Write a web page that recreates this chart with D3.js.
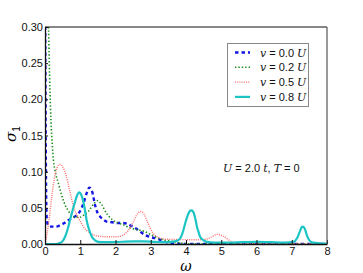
<!DOCTYPE html>
<html>
<head>
<meta charset="utf-8">
<script src="https://cdn.jsdelivr.net/npm/d3@7"></script>
<style>
  body { margin: 0; background: #fff; }
  text { font-family: "Liberation Sans", Arial, sans-serif; }
  .it { font-family: "DejaVu Serif", "Liberation Serif", serif; font-style: italic; }
</style>
</head>
<body>
<div id="main"></div>
<script>
var ctx = { w: 363, h: 273, left: 45, top: 27, right: 327, bottom: 244 };

// values
var xTicks = [0, 1, 2, 3, 4, 5, 6, 7, 8];
var yTicks = [0, 0.05, 0.10, 0.15, 0.20, 0.25, 0.30];

var labels = ["0.0", "0.2", "0.5", "0.8"];

var blueX = [0.005, 0.015, 0.03, 0.05, 0.08, 0.14, 0.3, 0.43, 0.55, 0.66, 0.78, 0.9, 1.0, 1.09, 1.18, 1.26, 1.34, 1.42, 1.5, 1.56, 1.65, 1.75, 1.9, 2.08, 2.2, 2.32, 2.45, 2.56, 2.7, 2.84, 3.0, 3.12, 3.25, 3.41, 3.55, 3.69, 3.85, 4.0, 8.0];
var blueY = [0.31, 0.2, 0.08, 0.035, 0.027, 0.024, 0.024, 0.026, 0.029, 0.033, 0.036, 0.040, 0.046, 0.056, 0.070, 0.078, 0.072, 0.054, 0.042, 0.038, 0.034, 0.031, 0.030, 0.029, 0.029, 0.028, 0.025, 0.022, 0.017, 0.0124, 0.0095, 0.008, 0.006, 0.003, 0.0015, 0.0005, 0.0002, 0, 0];

var greenX = [0.10, 0.12, 0.14, 0.17, 0.21, 0.24, 0.3, 0.38, 0.47, 0.57, 0.66, 0.76, 0.88, 0.99, 1.1, 1.23, 1.36, 1.49, 1.6, 1.75, 1.9, 2.08, 2.2, 2.37, 2.6, 2.84, 3.0, 3.22, 3.45, 3.69, 3.9, 4.1, 8.0];
var greenY = [0.30, 0.255, 0.215, 0.17, 0.135, 0.116, 0.098, 0.084, 0.068, 0.054, 0.046, 0.040, 0.037, 0.037, 0.040, 0.045, 0.054, 0.060, 0.055, 0.042, 0.034, 0.029, 0.027, 0.023, 0.020, 0.017, 0.013, 0.008, 0.005, 0.003, 0.001, 0, 0];

var redX = [0, 0.05, 0.1, 0.19, 0.27, 0.35, 0.42, 0.5, 0.6, 0.7, 0.8, 0.95, 1.09, 1.25, 1.37, 1.5, 1.7, 2.0, 2.2, 2.35, 2.5, 2.6, 2.7, 2.8, 2.9, 3.05, 3.22, 3.4, 3.7, 4.0, 4.3, 4.55, 4.7, 4.88, 5.05, 5.2, 5.35, 5.5, 5.8, 6.2, 7.0, 8.0];
var redY = [0, 0.012, 0.028, 0.065, 0.092, 0.106, 0.110, 0.107, 0.094, 0.074, 0.053, 0.036, 0.024, 0.016, 0.0125, 0.011, 0.010, 0.010, 0.012, 0.018, 0.030, 0.040, 0.045, 0.042, 0.031, 0.016, 0.009, 0.0068, 0.0062, 0.006, 0.0058, 0.0065, 0.009, 0.0133, 0.011, 0.006, 0.002, 0.001, 0.0008, 0.0005, 0.0003, 0];

var cyanX = [0, 0.3, 0.4, 0.5, 0.57, 0.64, 0.71, 0.78, 0.85, 0.91, 0.97, 1.03, 1.09, 1.14, 1.18, 1.25, 1.33, 1.42, 1.51, 1.7, 2.0, 2.5, 2.8, 3.1, 3.4, 3.6, 3.75, 3.85, 3.92, 3.98, 4.05, 4.1, 4.15, 4.2, 4.26, 4.31, 4.36, 4.4, 4.5, 4.59, 4.8, 5.2, 5.6, 6.0, 6.4, 6.8, 7.05, 7.15, 7.22, 7.28, 7.32, 7.37, 7.43, 7.5, 7.6, 7.8, 8.0];
var cyanY = [0, 0, 0.001, 0.004, 0.010, 0.020, 0.033, 0.046, 0.058, 0.067, 0.0715, 0.068, 0.058, 0.045, 0.033, 0.020, 0.010, 0.005, 0.003, 0.0025, 0.0028, 0.0035, 0.0035, 0.003, 0.0025, 0.003, 0.0045, 0.009, 0.018, 0.029, 0.040, 0.045, 0.0465, 0.045, 0.036, 0.024, 0.016, 0.010, 0.005, 0.003, 0.002, 0.002, 0.0025, 0.003, 0.0025, 0.002, 0.003, 0.008, 0.016, 0.023, 0.024, 0.021, 0.012, 0.005, 0.002, 0.001, 0.0005];

var series = [
    { xs: blueX, ys: blueY, color: "#1515e6", width: 2.4, dash: "3.5,3" },
    { xs: greenX, ys: greenY, color: "#1a8f1a", width: 1.6, dash: "1.4,2" },
    { xs: redX, ys: redY, color: "#ff6b6b", width: 1.4, dash: "1,1.2" },
    { xs: cyanX, ys: cyanY, color: "#1cc4c4", width: 2.2, dash: null }
];

var createViz = function(){
    var svgEl = d3.select("#main").append("svg")
        .attr("width", ctx.w)
        .attr("height", ctx.h);

    var x = d3.scaleLinear().domain([0, 8]).range([ctx.left, ctx.right]);
    var y = d3.scaleLinear().domain([0, 0.30]).range([ctx.bottom, ctx.top]);

    svgEl.append("clipPath").attr("id", "clip")
        .append("rect")
        .attr("x", ctx.left).attr("y", ctx.top)
        .attr("width", ctx.right - ctx.left).attr("height", ctx.bottom - ctx.top);

    // curves
    var line = d3.line()
        .x(function(d){ return x(d[0]); })
        .y(function(d){ return y(d[1]); })
        .curve(d3.curveMonotoneX);
    var curveG = svgEl.append("g").attr("clip-path", "url(#clip)");
    series.forEach(function(s){
        var pts = s.xs.map(function(v, i){ return [v, s.ys[i]]; });
        curveG.append("path")
            .attr("d", line(pts))
            .attr("fill", "none")
            .attr("stroke", s.color)
            .attr("stroke-width", s.width)
            .attr("stroke-dasharray", s.dash);
    });

    // axes (ticks pointing inward)
    var xAxis = svgEl.append("g")
        .attr("transform", "translate(0," + ctx.bottom + ")")
        .call(d3.axisBottom(x).tickValues(xTicks).tickFormat(d3.format("d")).tickSizeInner(-4).tickSizeOuter(0).tickPadding(3));
    var yAxis = svgEl.append("g")
        .attr("transform", "translate(" + ctx.left + ",0)")
        .call(d3.axisLeft(y).tickValues(yTicks).tickFormat(d3.format(".2f")).tickSizeInner(-3).tickSizeOuter(0).tickPadding(2));
    [xAxis, yAxis].forEach(function(a){
        a.selectAll("text").attr("font-size", 11).attr("fill", "#111")
            .attr("font-family", "'Liberation Sans', Arial, sans-serif");
        a.selectAll("line").attr("stroke", "#111");
        a.select(".domain").attr("stroke", "#111").attr("stroke-width", 1.3);
    });

    // frame top & right
    svgEl.append("line")
        .attr("x1", ctx.left).attr("x2", ctx.right)
        .attr("y1", ctx.top).attr("y2", ctx.top)
        .attr("stroke", "#111").attr("stroke-width", 1.2);
    svgEl.append("line")
        .attr("x1", ctx.right).attr("x2", ctx.right)
        .attr("y1", ctx.top).attr("y2", ctx.bottom)
        .attr("stroke", "#555").attr("stroke-width", 1.2);

    // axis titles
    svgEl.append("text")
        .attr("class", "it")
        .attr("x", (ctx.left + ctx.right) / 2).attr("y", 271)
        .attr("text-anchor", "middle").attr("font-size", 14)
        .text("ω");
    var yl = svgEl.append("text")
        .attr("transform", "translate(16,134) rotate(-90)")
        .attr("text-anchor", "middle").attr("font-size", 15);
    yl.append("tspan").attr("class", "it").text("σ");
    yl.append("tspan").attr("font-size", 10).attr("dy", 4).text("1");

    // legend
    var lg = svgEl.append("g");
    lg.append("rect")
        .attr("x", 227.5).attr("y", 43.5).attr("width", 81).attr("height", 63)
        .attr("fill", "#fff").attr("stroke", "#888").attr("stroke-width", 1);
    series.forEach(function(s, i){
        var yy = 52.5 + i * 14.8;
        lg.append("line")
            .attr("x1", 235).attr("x2", 250).attr("y1", yy).attr("y2", yy)
            .attr("stroke", s.color)
            .attr("stroke-width", s.width)
            .attr("stroke-dasharray", s.dash);
        var t = lg.append("text").attr("x", 260).attr("y", yy + 4).attr("font-size", 11).attr("fill", "#111");
        t.append("tspan").attr("class", "it").text("v");
        t.append("tspan").text(" = " + labels[i] + " ");
        t.append("tspan").attr("class", "it").text("U");
    });

    // annotation
    var an = svgEl.append("text").attr("x", 223).attr("y", 172).attr("font-size", 11).attr("fill", "#111");
    an.append("tspan").attr("class", "it").text("U");
    an.append("tspan").text(" = 2.0 ");
    an.append("tspan").attr("class", "it").text("t");
    an.append("tspan").text(", ");
    an.append("tspan").attr("class", "it").text("T");
    an.append("tspan").text(" = 0");
};

createViz();
</script>
</body>
</html>
